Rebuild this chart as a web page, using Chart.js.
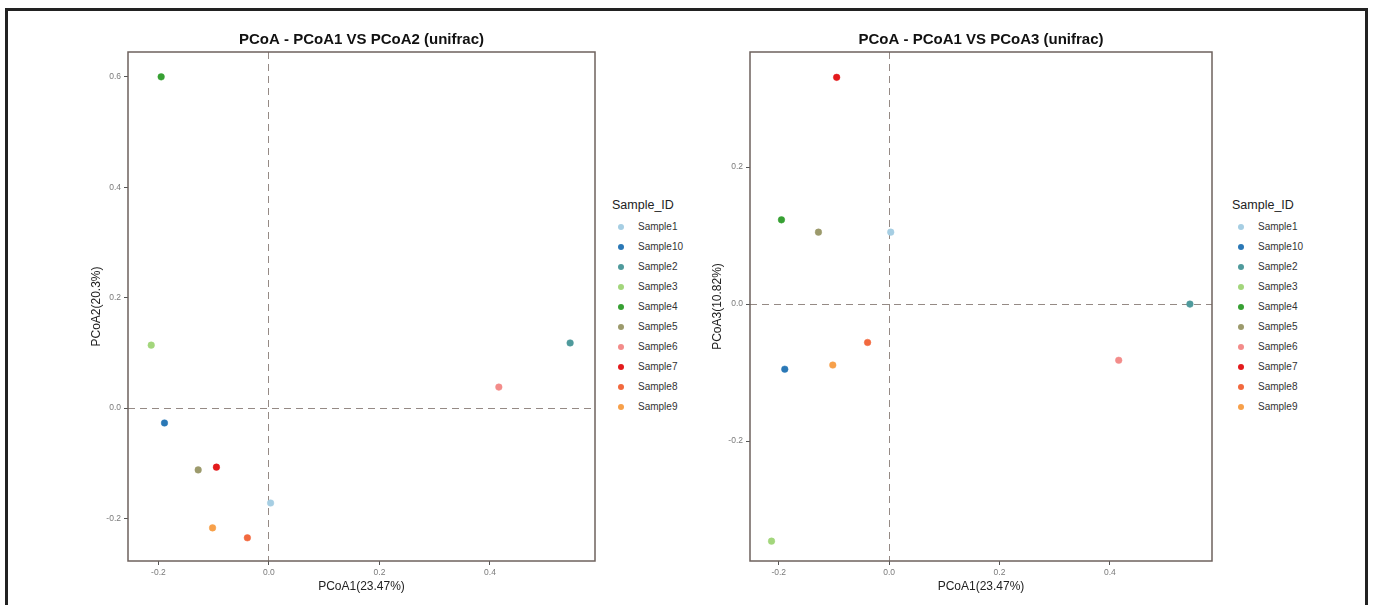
<!DOCTYPE html>
<html>
<head>
<meta charset="utf-8">
<script src="https://cdn.jsdelivr.net/npm/chart.js@4.4.0/dist/chart.umd.min.js"></script>
<style>
  body { margin: 0; background: #fff; width: 1379px; height: 605px; overflow: hidden; position: relative; font-family: "Liberation Sans", Arial, sans-serif; }
  .frame { position: absolute; left: 5px; top: 8px; right: 11px; height: 640px; border: 3px solid #222; border-bottom: none; box-sizing: border-box; }
  canvas { position: absolute; top: 0; }
  #pcoa12 { left: 0; }
  #pcoa13 { left: 690px; }
  .legend { position: absolute; top: 196px; color: #333; }
  .legend .lt { font-size: 12.5px; line-height: 18px; color: #222; margin-bottom: 3px; }
  .legend .li { position: relative; height: 20px; line-height: 20px; font-size: 10px; padding-left: 26px; }
  .legend .dot { position: absolute; left: 6px; top: 7px; width: 6px; height: 6px; border-radius: 50%; }
</style>
</head>
<body>
<div class="frame"></div>
<canvas id="pcoa12" width="600" height="605"></canvas>
<canvas id="pcoa13" width="530" height="605"></canvas>
<div class="legend" id="legend12" style="left:612px"></div>
<div class="legend" id="legend13" style="left:1232px"></div>

<script>
// Dados (PCoA unifrac)
const samples = ["Sample1", "Sample10", "Sample2", "Sample3", "Sample4",
                 "Sample5", "Sample6", "Sample7", "Sample8", "Sample9"];
const pc1 = [0.003, -0.189, 0.545, -0.213, -0.195, -0.128, 0.416, -0.095, -0.039, -0.102];
const pc2 = [-0.172, -0.027, 0.118, 0.114, 0.600, -0.112, 0.038, -0.107, -0.235, -0.217];
const pc3 = [0.105, -0.095, 0.000, -0.346, 0.123, 0.105, -0.082, 0.331, -0.056, -0.089];

const colors = ["#a6cee3", "#2a78b6", "#4f9a9c", "#a3d67c", "#37a033",
                "#9c9a6c", "#f38c8a", "#e31a1c", "#f2693e", "#f7a04a"];

const xTicks = [-0.2, 0.0, 0.2, 0.4];
const y2Ticks = [-0.2, 0.0, 0.2, 0.4, 0.6];
const y3Ticks = [-0.2, 0.0, 0.2];

// caixa em volta do painel
const panelBox = {
  id: "panelBox",
  afterDatasetsDraw(chart) {
    const a = chart.chartArea;
    const ctx = chart.ctx;
    ctx.save();
    ctx.strokeStyle = "#6e625d";
    ctx.lineWidth = 1.5;
    ctx.strokeRect(a.left, a.top, a.right - a.left, a.bottom - a.top);
    ctx.restore();
  }
};

function axis(ticks, min, max, title, fit) {
  return {
    type: "linear",
    min: min,
    max: max,
    afterBuildTicks: function(s) { s.ticks = ticks.map(v => ({ value: v })); },
    afterFit: fit,
    grid: {
      color: c => (c.tick && c.tick.value === 0) ? "#958a85" : "rgba(0,0,0,0)",
      lineWidth: 1,
      tickColor: "#555",
      tickLength: 4,
      tickBorderDash: []
    },
    border: { display: false, dash: [7, 5] },
    ticks: {
      color: "#7a7a7a",
      font: { size: 8.5, family: "Liberation Sans" },
      padding: 3,
      callback: v => Number(v).toFixed(1)
    },
    title: title
  };
}

function createPcoaChart(id, ys, titleText, yLabel, yTicks, yMin, yMax, xMin, xMax, yWidth, yTitlePad, padRight) {
  const ctx = document.getElementById(id);
  if (!ctx) return;

  new Chart(ctx, {
    type: "scatter",
    data: {
      datasets: samples.map((s, i) => ({
        label: s,
        data: [{ x: pc1[i], y: ys[i] }],
        backgroundColor: colors[i],
        borderColor: colors[i],
        borderWidth: 0.5,
        pointRadius: 3.3
      }))
    },
    plugins: [panelBox],
    options: {
      responsive: false,
      animation: false,
      devicePixelRatio: 1,
      layout: { padding: { left: 0, right: padRight, top: 0, bottom: 0 } },
      plugins: {
        legend: { display: false },
        tooltip: { enabled: false },
        title: {
          display: true,
          text: titleText,
          fullSize: false,
          color: "#111",
          font: { size: 15, weight: "bold", family: "Liberation Sans" },
          padding: { top: 31, bottom: 3 }
        }
      },
      scales: {
        x: axis(xTicks, xMin, xMax,
          { display: true, text: "PCoA1(23.47%)", color: "#222",
            font: { size: 12, family: "Liberation Sans" }, padding: { top: 0, bottom: 10.8 } },
          s => { s.height = 44; }),
        y: axis(yTicks, yMin, yMax,
          { display: true, text: yLabel, color: "#222",
            font: { size: 12, family: "Liberation Sans" }, padding: { top: yTitlePad, bottom: 0 } },
          s => { s.width = yWidth; })
      }
    }
  });
}

function buildLegend(id) {
  const el = document.getElementById(id);
  let html = '<div class="lt">Sample_ID</div>';
  samples.forEach((s, i) => {
    html += '<div class="li"><span class="dot" style="background:' + colors[i] + '"></span>' + s + '</div>';
  });
  el.innerHTML = html;
}

createPcoaChart("pcoa12", pc2, "PCoA - PCoA1 VS PCoA2 (unifrac)", "PCoA2(20.3%)",
  y2Ticks, -0.277, 0.645, -0.255, 0.59, 128, 89.8, 5);
createPcoaChart("pcoa13", pc3, "PCoA - PCoA1 VS PCoA3 (unifrac)", "PCoA3(10.82%)",
  y3Ticks, -0.375, 0.368, -0.252, 0.585, 60, 20.8, 8);
buildLegend("legend12");
buildLegend("legend13");
</script>
</body>
</html>
